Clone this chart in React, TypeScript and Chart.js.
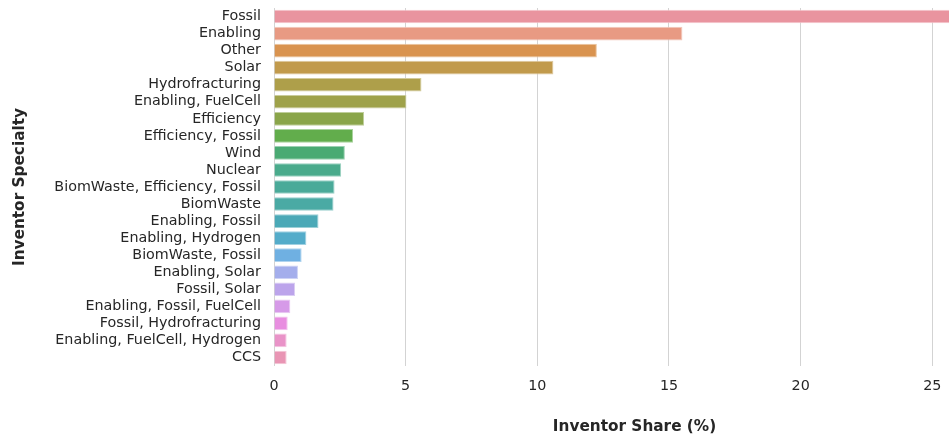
import React, { useEffect, useRef } from "react";
import { Chart, registerables } from "chart.js";

Chart.register(...registerables);

const categories = [
  "Fossil",
  "Enabling",
  "Other",
  "Solar",
  "Hydrofracturing",
  "Enabling, FuelCell",
  "Efficiency",
  "Efficiency, Fossil",
  "Wind",
  "Nuclear",
  "BiomWaste, Efficiency, Fossil",
  "BiomWaste",
  "Enabling, Fossil",
  "Enabling, Hydrogen",
  "BiomWaste, Fossil",
  "Enabling, Solar",
  "Fossil, Solar",
  "Enabling, Fossil, FuelCell",
  "Fossil, Hydrofracturing",
  "Enabling, FuelCell, Hydrogen",
  "CCS",
];

const shares = [
  26.06, 15.51, 12.26, 10.61, 5.6, 5.03, 3.42, 3.0, 2.69, 2.55, 2.3, 2.26,
  1.69, 1.23, 1.05, 0.91, 0.8, 0.62, 0.52, 0.48, 0.48,
];

const barColors = [
  "#e9949f",
  "#e89a83",
  "#d9934f",
  "#c19a4c",
  "#ae9f4a",
  "#9fa24a",
  "#8aa54a",
  "#62ad4c",
  "#4aaa73",
  "#4aab8c",
  "#4aaa99",
  "#4aaaa4",
  "#4ba9b7",
  "#54acca",
  "#6fb0e2",
  "#a4aeec",
  "#bca4eb",
  "#d69ae8",
  "#e88ee0",
  "#e993c8",
  "#e995b4",
];

const xTicks = [0, 5, 10, 15, 20, 25];
const X_MAX = 27.38;
const FAMILY = "'DejaVu Sans', sans-serif";
const TEXT = "#262626";

function lighten(hex: string, amt: number): string {
  const n = parseInt(hex.slice(1), 16);
  const r = (n >> 16) & 255;
  const g = (n >> 8) & 255;
  const b = n & 255;
  const m = (c: number) => Math.round(c + (255 - c) * amt);
  return `rgb(${m(r)},${m(g)},${m(b)})`;
}

export default function App() {
  const ref = useRef<HTMLCanvasElement>(null);
  useEffect(() => {
    const chart = new Chart(ref.current!, {
      type: "bar",
      data: {
        labels: categories,
        datasets: [
          {
            data: shares,
            backgroundColor: barColors,
            borderColor: barColors.map((c) => lighten(c, 0.45)),
            borderWidth: 1,
            barPercentage: 0.8,
            categoryPercentage: 1,
          },
        ],
      },
      options: {
        indexAxis: "y",
        animation: false,
        responsive: true,
        maintainAspectRatio: false,
        layout: { padding: { top: 8, left: 0, right: 0, bottom: 0 } },
        plugins: { legend: { display: false }, tooltip: { enabled: false } },
        scales: {
          x: {
            type: "linear",
            min: 0,
            max: X_MAX,
            afterBuildTicks: (s: any) => {
              s.ticks = xTicks.map((v) => ({ value: v }));
            },
            afterFit: (s: any) => {
              s.height = 71;
              s.paddingLeft = 0;
              s.paddingRight = 0;
            },
            grid: { color: "#d3d3d3", lineWidth: 1, drawTicks: false },
            border: { display: false },
            ticks: {
              font: { family: FAMILY, size: 14.3 },
              color: TEXT,
              padding: 12,
              maxRotation: 0,
            },
            title: {
              display: true,
              text: "Inventor Share (%)",
              font: { family: FAMILY, size: 15.3, weight: "bold" },
              color: TEXT,
              padding: { top: 0, bottom: 1 },
            },
          },
          y: {
            afterFit: (s: any) => {
              s.width = 274;
              s.paddingTop = 0;
              s.paddingBottom = 0;
            },
            grid: { display: false, drawTicks: false },
            border: { display: false },
            ticks: {
              autoSkip: false,
              font: { family: FAMILY, size: 14.3 },
              color: TEXT,
              padding: 13,
            },
            title: {
              display: true,
              text: "Inventor Specialty",
              font: { family: FAMILY, size: 15.3, weight: "bold" },
              color: TEXT,
              padding: { top: 11, bottom: 0 },
            },
          },
        },
      },
    } as any);
    return () => chart.destroy();
  }, []);
  return (
    <div
      style={{
        position: "absolute",
        left: 0,
        top: 0,
        width: 949,
        height: 437,
        overflow: "hidden",
        background: "#fff",
      }}
    >
      <div style={{ position: "relative", width: 995, height: 437 }}>
        <canvas ref={ref} />
      </div>
    </div>
  );
}
